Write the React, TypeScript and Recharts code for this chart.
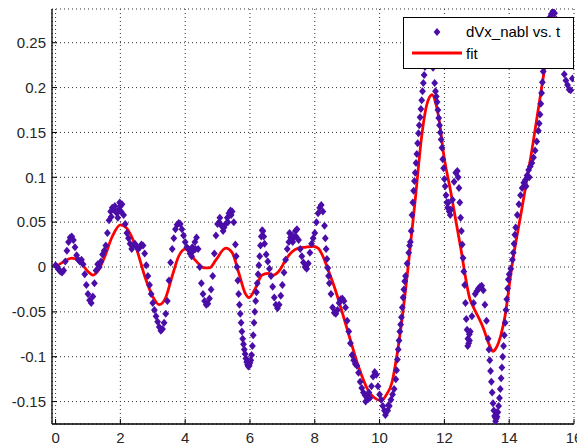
import React from 'react';
import { ComposedChart, Scatter, Line, XAxis, YAxis, CartesianGrid } from 'recharts';

const xTicks = [0, 2, 4, 6, 8, 10, 12, 14, 16];
const yTicks = [-0.15, -0.1, -0.05, 0, 0.05, 0.1, 0.15, 0.2, 0.25];
const seriesNames = ['dVx_nabl vs. t', 'fit'];

// measured points [t, dVx]
const dVxSeg1: [number, number][] = [
  [0, 0.002], [0.05, 0], [0.1, -0.003], [0.15, -0.005], [0.2, -0.006], [0.25, -0.004], [0.3, 0.006], [0.35, 0.018],
  [0.4, 0.028], [0.45, 0.033], [0.5, 0.034], [0.55, 0.03], [0.6, 0.022], [0.65, 0.013], [0.7, 0.008], [0.75, 0.006],
  [0.8, 0.008], [0.85, 0.003], [0.9, -0.008], [0.95, -0.02], [1, -0.03], [1.05, -0.037], [1.1, -0.04], [1.15, -0.033],
  [1.2, -0.018], [1.25, -0.004], [1.3, 0.003], [1.35, 0], [1.4, 0.006], [1.45, 0.014], [1.5, 0.018], [1.55, 0.024],
  [1.6, 0.038], [1.65, 0.052], [1.7, 0.062], [1.72, 0.056], [1.75, 0.066], [1.8, 0.064], [1.83, 0.068], [1.85, 0.062],
  [1.9, 0.06], [1.92, 0.055], [1.95, 0.064], [1.98, 0.072], [2, 0.068], [2.02, 0.062], [2.05, 0.07], [2.1, 0.058],
  [2.15, 0.048], [2.2, 0.038], [2.25, 0.032], [2.3, 0.026], [2.35, 0.02],
  [2.4, 0.024], [2.45, 0.026], [2.5, 0.023], [2.55, 0.02], [2.6, 0.022], [2.65, 0.025], [2.7, 0.024], [2.75, 0.015],
  [2.8, 0.002], [2.85, -0.01], [2.9, -0.02], [2.95, -0.03], [3, -0.04], [3.05, -0.048], [3.1, -0.055], [3.15, -0.061],
  [3.2, -0.067], [3.25, -0.071], [3.3, -0.069], [3.35, -0.062], [3.4, -0.052], [3.45, -0.038], [3.5, -0.015], [3.55, 0.005],
  [3.6, 0.02], [3.65, 0.032], [3.7, 0.042], [3.75, 0.047], [3.8, 0.049], [3.85, 0.048], [3.9, 0.042], [3.95, 0.035],
];
const dVxSeg2: [number, number][] = [
  [4, 0.028], [4.05, 0.022], [4.1, 0.02], [4.15, 0.015], [4.2, 0.012], [4.22, 0.022], [4.25, 0.018], [4.3, 0.028],
  [4.32, 0.02], [4.35, 0.033],
  [4.4, 0.02], [4.45, 0], [4.5, -0.018], [4.55, -0.03], [4.6, -0.038], [4.65, -0.042], [4.7, -0.041], [4.75, -0.035],
  [4.8, -0.025], [4.85, -0.01], [4.9, 0.015], [4.95, 0.035], [5, 0.048], [5.05, 0.05], [5.07, 0.055], [5.1, 0.047],
  [5.15, 0.045], [5.17, 0.04], [5.2, 0.044], [5.25, 0.048], [5.3, 0.055], [5.32, 0.05], [5.35, 0.06], [5.4, 0.063],
  [5.42, 0.058], [5.45, 0.062], [5.5, 0.05], [5.55, 0.025],
  [5.575, 0.012], [5.6, 0], [5.625, -0.015], [5.65, -0.03], [5.675, -0.042], [5.7, -0.052], [5.725, -0.062], [5.75, -0.072],
  [5.775, -0.08], [5.8, -0.086], [5.825, -0.092], [5.85, -0.097], [5.875, -0.102], [5.9, -0.106], [5.925, -0.109], [5.95, -0.111],
  [5.975, -0.11], [6, -0.107], [6.025, -0.104], [6.05, -0.098], [6.075, -0.088], [6.1, -0.076], [6.125, -0.062], [6.15, -0.05],
  [6.175, -0.038], [6.2, -0.028], [6.225, -0.018], [6.25, -0.008], [6.275, 0.002], [6.3, 0.012], [6.325, 0.024], [6.35, 0.034],
  [6.375, 0.041], [6.4, 0.04], [6.425, 0.034], [6.45, 0.026], [6.5, 0.014], [6.55, 0.006], [6.6, -0.002], [6.65, -0.01],
  [6.7, -0.022], [6.75, -0.034], [6.8, -0.042], [6.85, -0.046], [6.9, -0.042], [6.95, -0.032], [7, -0.02], [7.05, -0.006],
  [7.1, 0.008], [7.15, 0.02], [7.2, 0.028], [7.22, 0.038], [7.25, 0.033], [7.3, 0.035], [7.32, 0.028], [7.35, 0.033],
  [7.4, 0.04], [7.42, 0.034], [7.45, 0.042],
  [7.5, 0.03], [7.55, 0.02], [7.6, 0.012], [7.65, 0.005], [7.7, 0], [7.75, -0.002], [7.8, 0.004], [7.85, 0.016],
  [7.9, 0.026], [7.95, 0.032],
];
const dVxSeg3: [number, number][] = [
  [8, 0.038], [8.05, 0.05], [8.1, 0.06], [8.15, 0.066], [8.2, 0.069], [8.25, 0.062], [8.3, 0.046], [8.325, 0.032],
  [8.35, 0.02], [8.375, 0.009], [8.4, -0.001], [8.425, -0.01], [8.45, -0.018], [8.5, -0.03], [8.55, -0.045], [8.6, -0.051],
  [8.65, -0.052], [8.7, -0.048], [8.75, -0.04], [8.8, -0.036], [8.85, -0.035], [8.9, -0.038], [8.95, -0.045], [9, -0.06],
  [9.05, -0.072], [9.1, -0.085], [9.15, -0.098], [9.2, -0.104], [9.25, -0.108], [9.3, -0.11], [9.35, -0.118], [9.4, -0.128],
  [9.45, -0.135], [9.5, -0.14], [9.55, -0.143], [9.57, -0.15], [9.6, -0.145], [9.65, -0.147], [9.67, -0.14], [9.7, -0.146],
  [9.75, -0.133], [9.8, -0.122],
  [9.85, -0.117], [9.9, -0.12], [9.95, -0.133], [10, -0.142], [10.05, -0.148], [10.1, -0.155], [10.15, -0.16], [10.18, -0.165],
  [10.2, -0.162], [10.25, -0.16], [10.27, -0.154], [10.3, -0.155], [10.35, -0.148], [10.4, -0.142], [10.45, -0.136], [10.5, -0.125],
  [10.525, -0.115], [10.55, -0.103],
  [10.575, -0.092], [10.6, -0.082], [10.625, -0.072], [10.65, -0.064], [10.675, -0.056], [10.7, -0.045], [10.725, -0.034], [10.75, -0.025],
  [10.775, -0.016], [10.8, -0.01], [10.85, 0.004], [10.9, 0.016], [10.925, 0.024], [10.95, 0.028], [10.975, 0.04], [11, 0.058],
  [11.025, 0.072], [11.05, 0.085], [11.075, 0.096], [11.1, 0.105], [11.125, 0.116], [11.15, 0.126], [11.175, 0.138], [11.2, 0.149],
  [11.225, 0.158], [11.25, 0.167], [11.275, 0.176], [11.3, 0.186], [11.325, 0.196], [11.35, 0.205], [11.375, 0.214], [11.4, 0.223],
  [11.425, 0.233], [11.45, 0.24], [11.5, 0.25], [11.55, 0.255], [11.6, 0.25], [11.65, 0.222], [11.7, 0.205], [11.725, 0.196],
  [11.75, 0.19], [11.775, 0.184], [11.8, 0.175], [11.825, 0.166], [11.85, 0.158], [11.875, 0.15], [11.9, 0.142], [11.925, 0.133],
  [11.95, 0.12], [11.975, 0.11],
];
const dVxSeg4: [number, number][] = [
  [12, 0.098], [12.025, 0.09], [12.05, 0.08], [12.075, 0.072], [12.1, 0.066], [12.12, 0.072], [12.15, 0.062], [12.18, 0.058],
  [12.2, 0.064], [12.25, 0.075],
  [12.3, 0.095], [12.35, 0.105], [12.4, 0.107], [12.425, 0.1], [12.45, 0.088], [12.475, 0.072], [12.5, 0.055], [12.525, 0.04],
  [12.55, 0.025], [12.575, 0.01], [12.6, -0.005], [12.625, -0.02], [12.65, -0.04], [12.675, -0.058], [12.7, -0.07], [12.72, -0.088],
  [12.725, -0.08], [12.75, -0.085], [12.77, -0.075], [12.775, -0.082], [12.8, -0.072], [12.85, -0.055], [12.9, -0.04], [12.95, -0.03],
  [13, -0.027], [13.05, -0.024],
  [13.1, -0.022], [13.15, -0.021], [13.2, -0.026], [13.25, -0.042], [13.3, -0.06], [13.35, -0.08], [13.375, -0.092], [13.4, -0.104],
  [13.425, -0.116], [13.45, -0.128], [13.475, -0.14], [13.5, -0.152], [13.525, -0.16], [13.55, -0.166], [13.575, -0.168], [13.58, -0.172],
  [13.6, -0.169], [13.62, -0.162],
  [13.625, -0.167], [13.65, -0.162], [13.675, -0.155], [13.7, -0.146], [13.725, -0.136], [13.75, -0.124], [13.775, -0.112], [13.8, -0.1],
  [13.825, -0.088], [13.85, -0.076], [13.875, -0.062], [13.9, -0.048], [13.925, -0.036], [13.95, -0.024], [13.975, -0.014], [14, -0.008],
  [14.05, -0.002], [14.1, 0.008], [14.125, 0.016], [14.15, 0.026], [14.175, 0.036], [14.2, 0.044], [14.25, 0.058], [14.3, 0.07],
  [14.35, 0.08], [14.4, 0.088], [14.45, 0.094], [14.5, 0.097], [14.52, 0.09], [14.55, 0.102], [14.6, 0.108], [14.62, 0.1],
  [14.65, 0.112], [14.7, 0.116],
  [14.75, 0.122], [14.8, 0.13], [14.85, 0.14], [14.9, 0.152], [14.925, 0.16], [14.95, 0.17], [14.975, 0.182], [15, 0.194],
  [15.025, 0.206], [15.05, 0.218], [15.075, 0.23], [15.1, 0.242], [15.125, 0.252], [15.15, 0.26], [15.2, 0.27], [15.25, 0.278],
  [15.3, 0.282], [15.35, 0.285], [15.4, 0.283], [15.45, 0.276], [15.5, 0.265], [15.55, 0.25], [15.6, 0.236], [15.65, 0.226],
  [15.7, 0.215], [15.75, 0.208], [15.8, 0.203], [15.85, 0.198], [15.9, 0.197], [15.95, 0.21], [16, 0.224],
];

// fitted curve [t, value]
const fitCurve: [number, number][] = [
  [0, 0], [0.25, 0.006], [0.5, 0.01], [0.75, 0.006], [1, -0.005], [1.15, -0.009], [1.3, -0.005], [1.5, 0.01],
  [1.75, 0.034], [2, 0.047], [2.2, 0.043], [2.5, 0.02], [2.75, -0.01], [3, -0.033], [3.2, -0.042], [3.4, -0.034],
  [3.6, -0.01], [3.8, 0.012], [4, 0.02], [4.3, 0.008], [4.6, -0.001], [4.75, -0.001], [4.95, 0.008], [5.25, 0.021],
  [5.45, 0.016], [5.65, -0.006], [5.85, -0.029], [5.97, -0.034], [6.15, -0.025], [6.37, -0.009], [6.55, -0.007], [6.72, -0.009],
  [6.93, -0.003], [7.1, 0.008], [7.3, 0.017], [7.5, 0.021], [7.7, 0.022], [7.95, 0.023], [8.1, 0.021], [8.25, 0.012],
  [8.4, -0.002], [8.63, -0.025], [9.03, -0.073], [9.34, -0.11], [9.64, -0.137], [9.85, -0.146], [10.05, -0.149], [10.2, -0.143],
  [10.38, -0.129], [10.55, -0.095], [10.69, -0.059], [10.88, 0], [11.1, 0.075], [11.31, 0.149], [11.45, 0.18], [11.62, 0.192],
  [11.75, 0.18], [11.87, 0.156], [11.96, 0.13], [12.2, 0.083], [12.5, 0.022], [12.79, -0.036], [12.9, -0.045], [13.2, -0.068],
  [13.4, -0.088], [13.5, -0.094], [13.6, -0.09], [13.75, -0.075], [13.87, -0.055], [14.08, 0], [14.4, 0.067], [14.7, 0.13],
  [15.1, 0.223], [15.38, 0.285],
];

const toRows = (pairs: [number, number][]) => pairs.map(([t, y]) => ({ t, y }));
const scatterData = toRows([...dVxSeg1, ...dVxSeg2, ...dVxSeg3, ...dVxSeg4]);
const fitData = toRows(fitCurve);

const FONT = '"Liberation Sans", Arial, Helvetica, sans-serif';
const PURPLE = '#4B0DA8';
const RED = '#FF0000';
const X_DOMAIN: [number, number] = [-0.11, 16];
const Y_DOMAIN: [number, number] = [-0.175, 0.2876];

const Diamond = (props: any) => {
  const { cx, cy } = props;
  if (cx == null || cy == null) return null;
  return (
    <polygon
      points={`${cx},${cy - 4} ${cx + 3.4},${cy} ${cx},${cy + 4} ${cx - 3.4},${cy}`}
      fill={PURPLE}
    />
  );
};

const fmtY = (v: number) => String(Math.round(v * 100) / 100);
const tickStyle = { fill: '#262626', fontSize: 15, fontFamily: FONT };

export default function App() {
  return (
    <div
      style={{
        position: 'absolute',
        left: 0,
        top: 0,
        width: 577,
        height: 446,
        overflow: 'hidden',
        background: '#fff',
      }}
    >
      <ComposedChart width={600} height={446} margin={{ top: 9, right: 26, bottom: 0, left: 0 }}>
        <CartesianGrid stroke="#303030" strokeDasharray="1 3" />
        <XAxis
          dataKey="t"
          type="number"
          domain={X_DOMAIN}
          ticks={xTicks}
          allowDataOverflow
          height={22}
          tickSize={-5}
          tickMargin={13}
          tick={tickStyle}
          axisLine={{ stroke: '#000', strokeWidth: 1.3 }}
          tickLine={{ stroke: '#000' }}
        />
        <XAxis
          xAxisId="top"
          orientation="top"
          type="number"
          domain={X_DOMAIN}
          ticks={xTicks}
          allowDataOverflow
          height={0}
          tickSize={-5}
          tick={false}
          axisLine={{ stroke: '#000' }}
          tickLine={{ stroke: '#000' }}
        />
        <YAxis
          dataKey="y"
          type="number"
          domain={Y_DOMAIN}
          ticks={yTicks}
          allowDataOverflow
          width={52}
          tickSize={-5}
          tickMargin={11}
          tickFormatter={fmtY}
          tick={tickStyle}
          axisLine={{ stroke: '#000', strokeWidth: 1.3 }}
          tickLine={{ stroke: '#000' }}
        />
        <YAxis
          yAxisId="right"
          orientation="right"
          type="number"
          domain={Y_DOMAIN}
          ticks={yTicks}
          allowDataOverflow
          width={0}
          tickSize={-5}
          tick={false}
          axisLine={{ stroke: '#000' }}
          tickLine={{ stroke: '#000' }}
        />
        <Scatter name={seriesNames[0]} data={scatterData} dataKey="y" shape={Diamond} isAnimationActive={false} />
        <Line
          name={seriesNames[1]}
          data={fitData}
          dataKey="y"
          type="monotone"
          stroke={RED}
          strokeWidth={2.8}
          dot={false}
          activeDot={false}
          isAnimationActive={false}
        />
      </ComposedChart>
      <div
        style={{
          position: 'absolute',
          left: 403,
          top: 17,
          width: 171,
          height: 52,
          boxSizing: 'border-box',
          background: '#fff',
          border: '1px solid #000',
          fontFamily: FONT,
          fontSize: 15,
          color: '#000',
        }}
      >
        <svg width={169} height={50} style={{ position: 'absolute', left: 0, top: 0 }}>
          <polygon points="33,10 36.4,14 33,18 29.6,14" fill={PURPLE} />
          <line x1={8} y1={35} x2={58} y2={35} stroke={RED} strokeWidth={2.8} />
        </svg>
        <span style={{ position: 'absolute', left: 62, top: 5, lineHeight: '17px', whiteSpace: 'nowrap' }}>
          {seriesNames[0]}
        </span>
        <span style={{ position: 'absolute', left: 62, top: 27, lineHeight: '17px', whiteSpace: 'nowrap' }}>
          {seriesNames[1]}
        </span>
      </div>
    </div>
  );
}
